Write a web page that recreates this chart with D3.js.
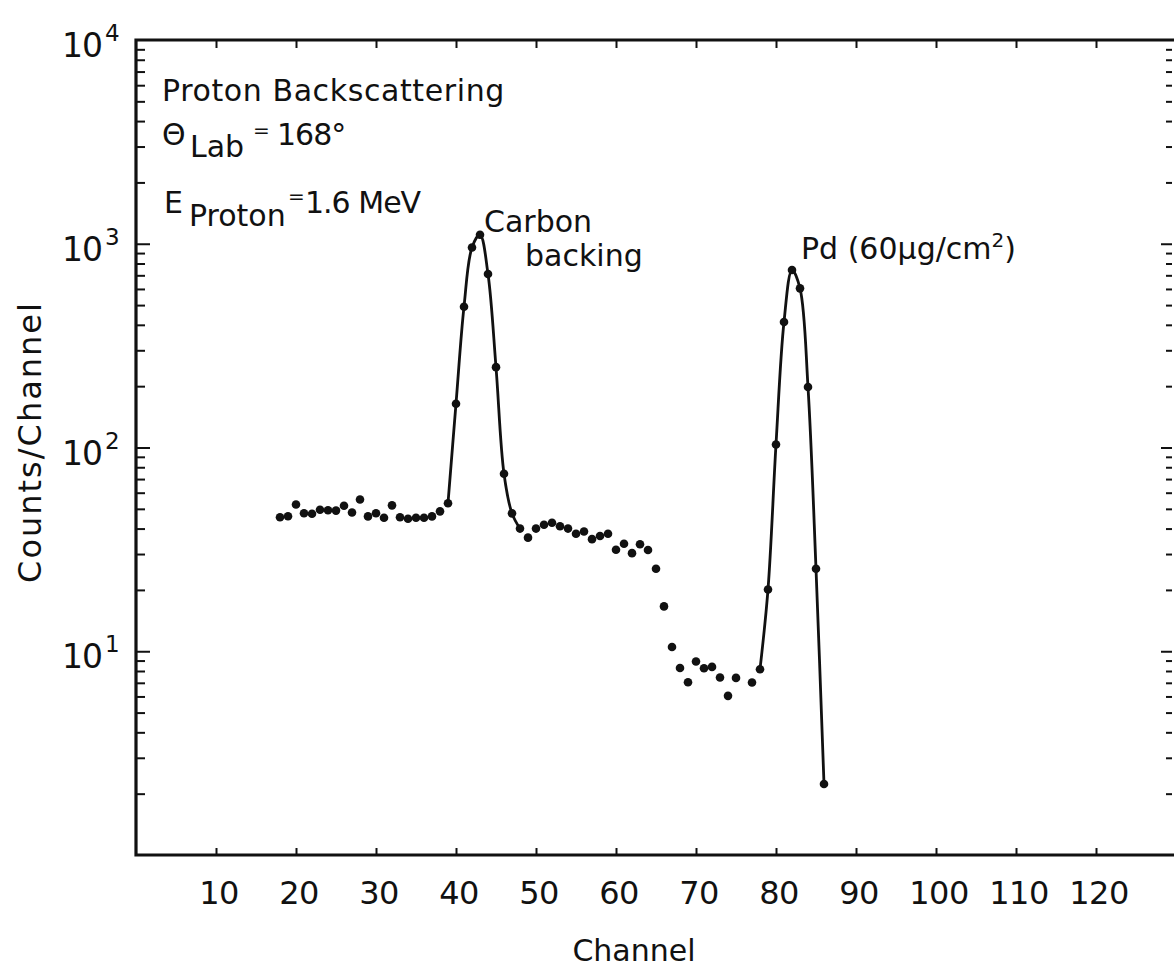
<!DOCTYPE html>
<html>
<head>
<meta charset="utf-8">
<script src="https://cdn.jsdelivr.net/npm/d3@7"></script>
<style>
  body { margin: 0; background: #fff; }
  text { font-family: "DejaVu Sans", sans-serif; fill: #111; }
</style>
</head>
<body>
<div id="chart"></div>
<script>
// channel numbers and counts
const channels = [18, 19, 20, 21, 22, 23, 24, 25, 26, 27, 28, 29, 30, 31, 32, 33, 34, 35, 36, 37,
  38, 39, 40, 41, 42, 43, 44, 45, 46, 47, 48, 49, 50, 51, 52, 53, 54, 55, 56, 57,
  58, 59, 60, 61, 62, 63, 64, 65, 66, 67, 68, 69, 70, 71, 72, 73, 74, 75, 77, 78,
  79, 80, 81, 82, 83, 84, 85, 86];
const counts = [45.5, 46, 52.5, 47.6, 47.3, 49.5, 49.2, 49, 51.8, 48, 55.6, 45.9, 47.6, 45.2, 52, 45.5, 44.7, 45.2, 45.2, 45.9,
  48.6, 53.3, 164, 491, 959, 1107, 710, 248, 74.3, 47.5, 40, 36.1, 40, 41.8, 42.7, 41.1, 40, 37.7, 38.7, 35.5,
  36.8, 37.7, 31.5, 33.7, 30.3, 33.5, 31.4, 25.4, 16.6, 10.5, 8.28, 7.05, 8.9, 8.25, 8.38, 7.43, 6.04, 7.4, 7.02, 8.16,
  20.1, 103.5, 413, 743, 604, 198, 25.4, 2.23];

// channel ranges joined by the drawn peak curves
const peakRanges = [[39, 48], [78, 86]];

const xTickValues = [10, 20, 30, 40, 50, 60, 70, 80, 90, 100, 110, 120];
const yDecades = [1e1, 1e2, 1e3, 1e4];
const yExponents = ["1", "2", "3", "4"];

const width = 1174;
const height = 970;

const x = d3.scaleLinear().domain([0, 130]).range([136, 1176]);
const y = d3.scaleLog().domain([1, 1e4]).range([855, 40]);

const svg = d3.select("#chart")
  .append("svg")
  .attr("width", width)
  .attr("height", height);

const points = channels.map((c, i) => ({ ch: c, v: counts[i] }));

// minor / major log ticks
const allY = y.ticks().filter(v => v > 1 && v < 1e4);
const majorY = allY.filter(v => yDecades.includes(v));
const minorY = allY.filter(v => !yDecades.includes(v));

function tickGroup(axis, tx, ty) {
  const g = svg.append("g")
    .attr("transform", `translate(${tx},${ty})`)
    .call(axis);
  g.select(".domain").remove();
  g.selectAll(".tick line").attr("stroke", "#111").attr("stroke-width", 2);
  return g;
}

const x0 = x.range()[0], x1 = x.range()[1];
const yb = y.range()[0], yt = y.range()[1];

// left side: ticks point inward
tickGroup(d3.axisLeft(y).tickValues(minorY).tickSize(-9).tickFormat(""), x0, 0);
tickGroup(d3.axisLeft(y).tickValues(majorY).tickSize(-14).tickFormat(""), x0, 0);
// right side
tickGroup(d3.axisRight(y).tickValues(minorY).tickSize(-6).tickFormat(""), x1 - 4, 0);
tickGroup(d3.axisRight(y).tickValues(majorY).tickSize(-11).tickFormat(""), x1 - 4, 0);
// bottom and top
tickGroup(d3.axisBottom(x).tickValues(xTickValues).tickSize(-7).tickFormat(""), 0, yb);
tickGroup(d3.axisTop(x).tickValues(xTickValues).tickSize(-8).tickFormat(""), 0, yt);

// frame
svg.append("path")
  .attr("d", `M${x0},${yt}H${x1}V${yb}H${x0}Z`)
  .attr("fill", "none")
  .attr("stroke", "#111")
  .attr("stroke-width", 3.2);

// x tick labels
svg.append("g")
  .selectAll("text")
  .data(xTickValues)
  .enter()
  .append("text")
  .attr("x", d => x(d) + 3)
  .attr("y", 904)
  .attr("text-anchor", "middle")
  .attr("font-size", "32px")
  .attr("letter-spacing", "-0.5px")
  .text(d => d);

// y tick labels 10^n
const yLab = svg.append("g")
  .selectAll("text")
  .data(yDecades)
  .enter()
  .append("text")
  .attr("x", 62)
  .attr("y", d => y(d) + 17)
  .attr("font-size", "33px");
yLab.append("tspan").attr("letter-spacing", "-1px").text("10");
yLab.append("tspan")
  .attr("dy", -16)
  .attr("dx", 3)
  .attr("font-size", "23px")
  .text((d, i) => yExponents[i]);

// axis titles
svg.append("text")
  .attr("x", 634)
  .attr("y", 961)
  .attr("text-anchor", "middle")
  .attr("font-size", "30px")
  .text("Channel");

svg.append("text")
  .attr("transform", "translate(41,442) rotate(-90)")
  .attr("text-anchor", "middle")
  .attr("font-size", "32px")
  .attr("letter-spacing", "2px")
  .text("Counts/Channel");

// annotations
const ann = svg.append("g").attr("font-size", "30px");
ann.append("text").attr("x", 162).attr("y", 101).attr("letter-spacing", "0.6px").text("Proton Backscattering");

const theta = ann.append("text").attr("y", 145);
theta.append("tspan").attr("x", 162).text("Θ");
theta.append("tspan").attr("x", 190).attr("dy", 12).text("Lab");
theta.append("tspan").attr("x", 253).attr("dy", -20).attr("font-size", "20px").text("=");
theta.append("tspan").attr("x", 277).attr("dy", 8).attr("letter-spacing", "-1px").text("168°");

const ep = ann.append("text").attr("y", 213);
ep.append("tspan").attr("x", 164).text("E");
ep.append("tspan").attr("x", 189).attr("dy", 13).text("Proton");
ep.append("tspan").attr("x", 288).attr("dy", -23).attr("font-size", "20px").text("=");
ep.append("tspan").attr("x", 305).attr("dy", 10).attr("letter-spacing", "-1px").text("1.6 MeV");

ann.append("text").attr("x", 484).attr("y", 232).text("Carbon");
ann.append("text").attr("x", 525).attr("y", 266).text("backing");

const pd = ann.append("text").attr("x", 801).attr("y", 259);
pd.append("tspan").text("Pd (60μg/cm");
pd.append("tspan").attr("dy", -12).attr("font-size", "20px").text("2");
pd.append("tspan").attr("dy", 12).text(")");

// peak curves
const line = d3.line()
  .x(d => x(d.ch))
  .y(d => y(d.v))
  .curve(d3.curveCatmullRom.alpha(0.5));

svg.append("g")
  .selectAll("path")
  .data(peakRanges.map(r => points.filter(p => p.ch >= r[0] && p.ch <= r[1])))
  .enter()
  .append("path")
  .attr("d", line)
  .attr("fill", "none")
  .attr("stroke", "#111")
  .attr("stroke-width", 2.8);

// data points
svg.append("g")
  .selectAll("circle")
  .data(points)
  .enter()
  .append("circle")
  .attr("cx", d => x(d.ch))
  .attr("cy", d => y(d.v))
  .attr("r", 4.3)
  .attr("fill", "#111");
</script>
</body>
</html>
